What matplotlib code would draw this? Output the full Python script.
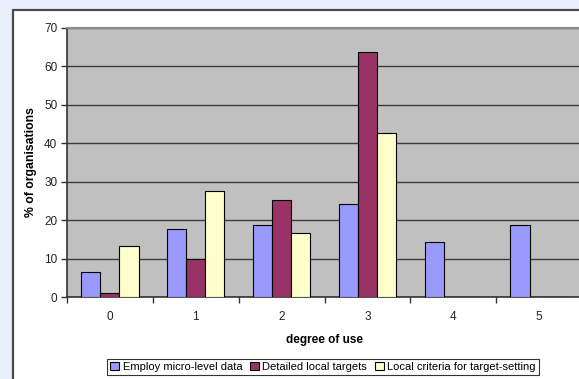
import matplotlib
matplotlib.use("Agg")
import matplotlib.pyplot as plt
from matplotlib.patches import Rectangle
import numpy as np

plt.rcParams['font.family'] = ['Liberation Sans', 'DejaVu Sans']

# Data
degrees = [0, 1, 2, 3, 4, 5]
series_names = ["Employ micro-level data", "Detailed local targets",
                "Local criteria for target-setting"]
micro_level = [6.6, 17.6, 18.8, 24.3, 14.4, 18.8]
local_targets = [1.1, 10.0, 25.3, 63.7, 0, 0]
local_criteria = [13.4, 27.6, 16.6, 42.8, 0, 0]
y_ticks = [0, 10, 20, 30, 40, 50, 60, 70]

colors = ["#9999FF", "#993366", "#FFFFCC"]

W, H = 579, 379
fig = plt.figure(figsize=(W / 100, H / 100), dpi=100)
fig.patch.set_facecolor("#EAF0FB")

# White chart area with dark frame
fig.patches.append(Rectangle((13 / W, -0.05), 1.0, 1 - 10 / H + 0.05,
                             transform=fig.transFigure, facecolor="white",
                             edgecolor="#4a4a4a", linewidth=1.6, zorder=-10))

left, right, top, bottom = 67, 582, 28, 297
ax = fig.add_axes([left / W, 1 - bottom / H, (right - left) / W, (bottom - top) / H])
ax.set_facecolor("#C0C0C0")

x = np.arange(len(degrees))
w = 1 / 4.5
for k, (vals, c) in enumerate(zip([micro_level, local_targets, local_criteria], colors)):
    ax.bar(x + (k - 1) * w, vals, width=w, color=c, edgecolor="black",
           linewidth=0.8, label=series_names[k], zorder=3)

ax.set_xlim(-0.5, len(degrees) - 0.5)
ax.set_ylim(0, 70)
ax.set_yticks(y_ticks)
ax.set_yticklabels([str(v) for v in y_ticks], fontsize=8.5, color="#222222")
ax.yaxis.grid(True, color="#3c3c3c", linewidth=1.0)
ax.set_axisbelow(True)

# Category boundaries carry the tick marks; labels sit at the centres
ax.set_xticks(np.arange(-0.5, len(degrees) + 0.5, 1))
ax.set_xticklabels([])
ax.set_xticks(x, minor=True)
ax.set_xticklabels([str(d) for d in degrees], minor=True, fontsize=8.5, color="#222222")
ax.tick_params(axis="x", which="major", length=4, width=1, color="#333333", direction="out")
ax.tick_params(axis="x", which="minor", length=0, pad=10)
ax.tick_params(axis="y", length=4, width=1, color="#333333", pad=3)

for s in ["left", "bottom"]:
    ax.spines[s].set_color("#333333")
    ax.spines[s].set_linewidth(1.2)
for s in ["top", "right"]:
    ax.spines[s].set_color("#8a8a8a")
    ax.spines[s].set_linewidth(1.5)

ax.set_xlabel("degree of use", fontsize=8.5, fontweight="bold", labelpad=8)
ax.set_ylabel("% of organisations", fontsize=8.8, fontweight="bold", labelpad=5)

leg = fig.legend(loc="center", bbox_to_anchor=(323 / W, 1 - 367 / H), ncol=3,
                 fontsize=8, frameon=True, fancybox=False, edgecolor="black",
                 handlelength=0.8, handleheight=0.8, handletextpad=0.3,
                 columnspacing=0.7, borderpad=0.3, borderaxespad=0)
leg.get_frame().set_linewidth(0.8)

fig.savefig("out.png", dpi=100, facecolor=fig.get_facecolor())
